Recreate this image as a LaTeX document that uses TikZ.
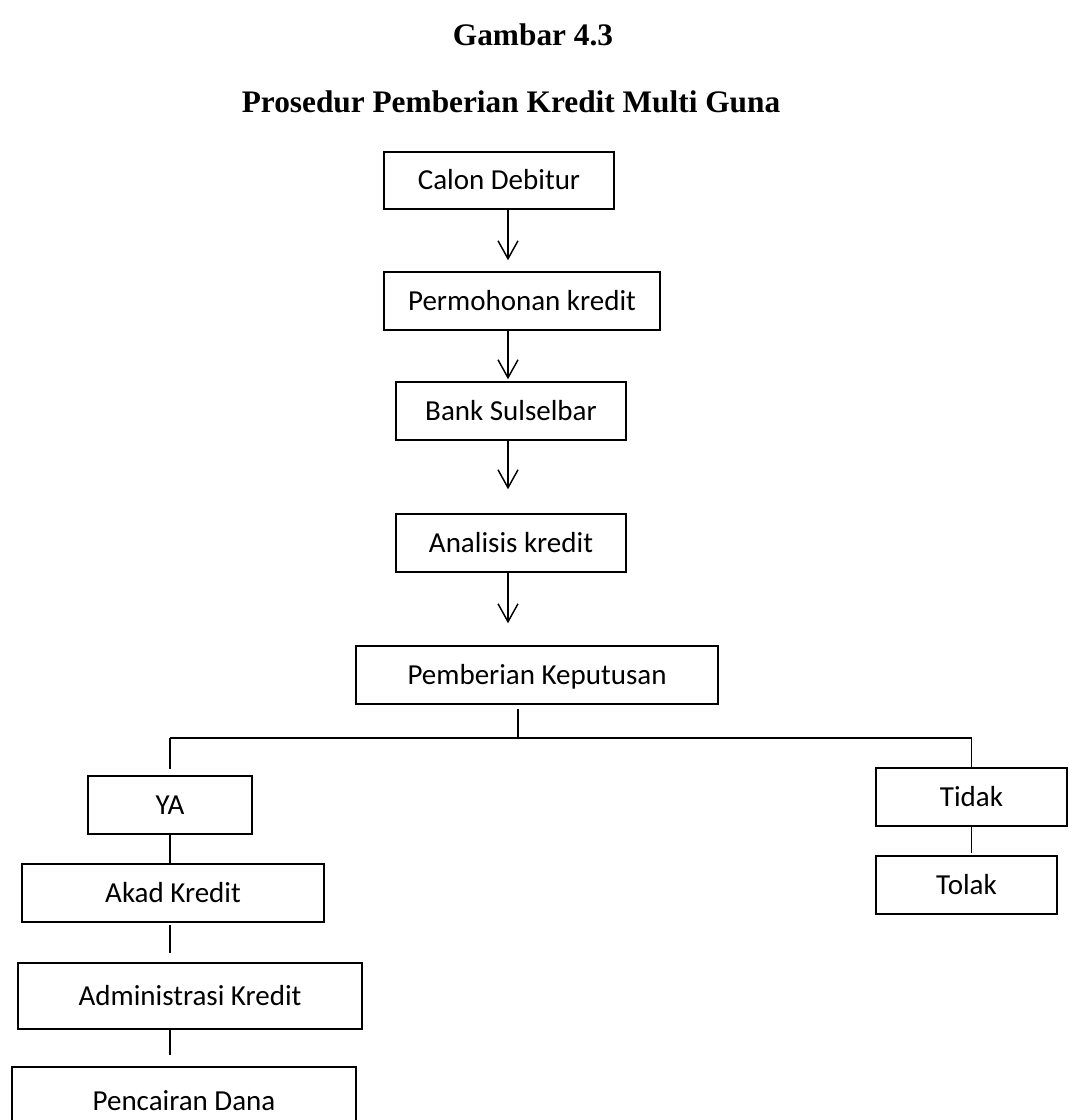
\documentclass[tikz,border=0pt]{standalone}
\usepackage{fontspec}
\setmainfont{Carlito}
\newfontfamily\titlefont{Liberation Serif}
\usetikzlibrary{arrows.meta}

\tikzset{
  box/.style={draw, line width=1.1pt, inner sep=0pt,
    font=\fontsize{21.75}{26}\selectfont, text height=14pt, text depth=0pt},
  line/.style={line width=1.1pt},
  arr/.style={line width=1.1pt, -{Straight Barb[length=13.5pt, width=15pt, line width=1.1pt]}},
  judul/.style={font=\titlefont\bfseries\fontsize{23.5}{28}\selectfont, anchor=base, inner sep=0pt}
}

\begin{document}
\begin{tikzpicture}[x=0.75pt, y=-0.75pt]
  \useasboundingbox (0,0) rectangle (1068,1120);

  % --- judul ---
  \node[judul] (gambar) at (533,46) {Gambar 4.3};
  \node[judul] (prosedur) at (511,113) {Prosedur Pemberian Kredit Multi Guna};

  % --- alur utama ---
  \node[box, minimum width=172.5pt, minimum height=42.75pt] (calon) at (499,180.5) {Calon Debitur};
  \node[box, minimum width=207pt, minimum height=43.5pt] (permohonan) at (522,301) {Permohonan kredit};
  \node[box, minimum width=172.5pt, minimum height=43.5pt] (bank) at (511,411) {Bank Sulselbar};
  \node[box, minimum width=172.5pt, minimum height=43.5pt] (analisis) at (511,543) {Analisis kredit};
  \node[box, minimum width=271.5pt, minimum height=43.5pt] (keputusan) at (537,675) {Pemberian Keputusan};

  \coordinate (ax) at (508,0);
  \draw[arr, shorten >=8.25pt] (calon.south -| ax) -- (permohonan.north -| ax);
  \draw[arr, shorten >=1.5pt] (permohonan.south -| ax) -- (bank.north -| ax);
  \draw[arr, shorten >=18pt] (bank.south -| ax) -- (analisis.north -| ax);
  \draw[arr, shorten >=16.5pt] (analisis.south -| ax) -- (keputusan.north -| ax);

  % --- cabang keputusan ---
  \node[box, minimum width=123pt, minimum height=43.5pt] (ya) at (170,805) {YA};
  \node[box, minimum width=226.5pt, minimum height=43.5pt] (akad) at (173,893) {Akad Kredit};
  \node[box, minimum width=258pt, minimum height=49.5pt] (admin) at (190,996) {Administrasi Kredit};
  \node[box, minimum width=258pt, minimum height=51pt] (pencairan) at (184,1101) {Pencairan Dana};

  \node[box, minimum width=143.25pt, minimum height=43.5pt] (tidak) at (971.5,797) {Tidak};
  \node[box, minimum width=135.75pt, minimum height=43.5pt] (tolak) at (966.5,885) {Tolak};

  \coordinate (split) at (518,738);
  \draw[line, shorten <=3pt] (keputusan.south -| split) -- (split);
  \draw[line] (ya.north |- split) -- (tidak.north |- split) -- (tidak.north);
  \draw[line, shorten >=4.5pt] (ya.north |- split) -- (ya.north);

  \draw[line] (ya.south) -- (akad.north -| ya.south);
  \draw[line, shorten <=1.5pt, shorten >=6.75pt] (akad.south -| ya.south) -- (admin.north -| ya.south);
  \draw[line, shorten >=8.25pt] (admin.south -| ya.south) -- (pencairan.north -| ya.south);
  \draw[line, shorten >=1.5pt] (tidak.south) -- (tidak.south |- tolak.north);

\end{tikzpicture}
\end{document}
